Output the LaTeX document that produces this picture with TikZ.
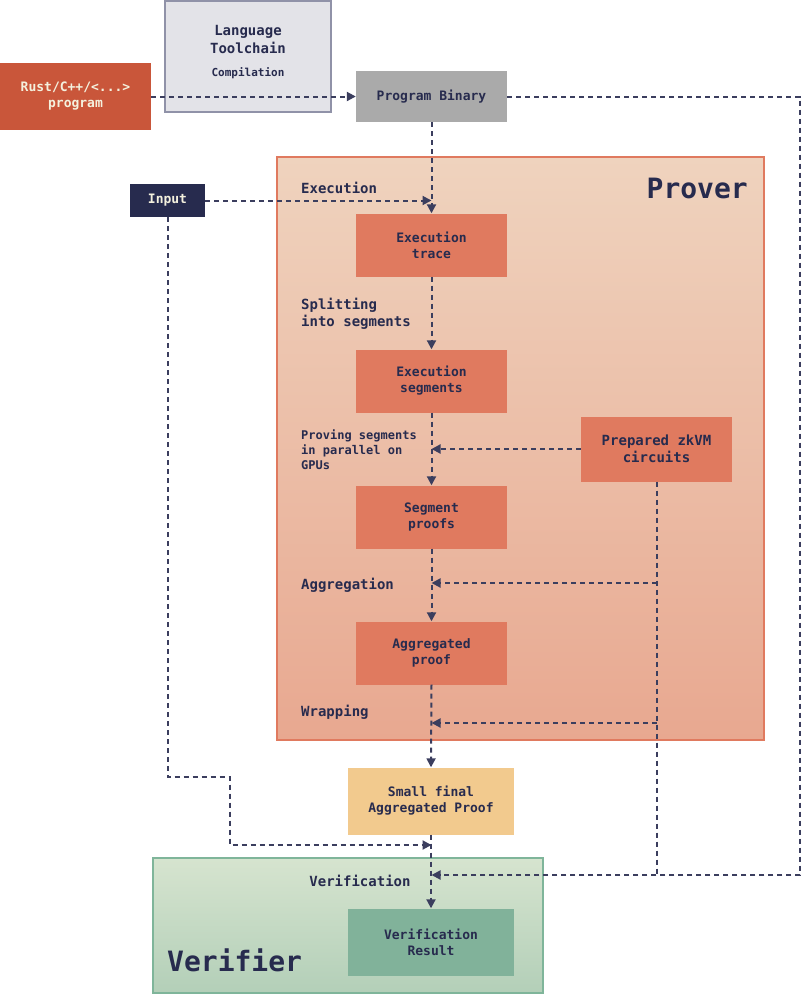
\documentclass[tikz,border=0pt]{standalone}
\usepackage{fontspec}
\setmainfont{DejaVu Sans Mono}
\usetikzlibrary{arrows.meta}
\definecolor{navy}{HTML}{272B4E}
\definecolor{lnk}{HTML}{3B3E5E}
\definecolor{coral}{HTML}{E07A5F}
\definecolor{rust}{HTML}{C9563A}
\definecolor{cream}{HTML}{F4F1DE}
\definecolor{sand}{HTML}{F2CA8E}
\definecolor{sage}{HTML}{81B29A}
\definecolor{pbgray}{HTML}{AAAAAA}
\definecolor{tcfill}{HTML}{E3E3E8}
\definecolor{tcdraw}{HTML}{9092A8}
\definecolor{prtop}{HTML}{EFD3BE}
\definecolor{prbot}{HTML}{E8A890}
\definecolor{vetop}{HTML}{D6E4CF}
\definecolor{vebot}{HTML}{B3CFB8}
\definecolor{vedraw}{HTML}{7FB59A}
\begin{document}
\begin{tikzpicture}[x=1pt,y=-1pt,
 box/.style={rectangle, inner sep=0pt, align=center, font=\fontsize{13}{16}\selectfont\bfseries, text=navy},
 obox/.style={box, fill=coral, minimum width=151pt, minimum height=63pt},
 lbl/.style={anchor=west, inner sep=0pt, align=left, font=\fontsize{14}{17}\selectfont\bfseries, text=navy},
 flow/.style={draw=lnk, line width=2pt, dash pattern=on 5pt off 4pt, -{Triangle[length=9pt,width=9pt]}},
 link/.style={draw=lnk, line width=2pt, dash pattern=on 5pt off 4pt}
]
\useasboundingbox (0,0) rectangle (801,994);
\fill[white] (0,0) rectangle (801,994);

% regions
\node[draw=coral, line width=2pt, top color=prtop, bottom color=prbot, minimum width=487pt, minimum height=583pt, inner sep=0pt] (prover) at (520.5,448.5) {};
\node[draw=vedraw, line width=2pt, top color=vetop, bottom color=vebot, minimum width=390pt, minimum height=135pt, inner sep=0pt] (verifier) at (348,925.5) {};
\node[anchor=east, inner sep=0pt, font=\fontsize{28}{30}\selectfont\bfseries, text=navy] (provertitle) at (748,188) {Prover};
\node[anchor=west, inner sep=0pt, font=\fontsize{28}{30}\selectfont\bfseries, text=navy] (verifiertitle) at (167,960) {Verifier};

% top boxes
\node[box, draw=tcdraw, line width=2pt, fill=tcfill, minimum width=166pt, minimum height=111pt] (toolchain) at (248,56.5) {};
\node[box, font=\fontsize{14}{18}\selectfont\bfseries] (tctext) at (248,39.5) {Language\\Toolchain};
\node[box, font=\fontsize{11}{13}\selectfont\bfseries] (tcsub) at (248,73.5) {Compilation};
\node[box, fill=rust, text=cream, minimum width=151pt, minimum height=67pt] (rust) at (75.5,96.5) {Rust/C++/<...>\\program};
\node[box, fill=pbgray, minimum width=151pt, minimum height=51pt] (binary) at (431.5,96.5) {Program Binary};
\node[box, fill=navy, text=cream, minimum width=75pt, minimum height=33pt] (input) at (167.5,200.5) {Input};

% prover boxes
\node[obox] (trace) at (431.5,245) {Execution\\trace};
\node[obox] (segs) at (431.5,381) {Execution\\segments};
\node[obox] (sproofs) at (431.5,517) {Segment\\proofs};
\node[obox] (agg) at (431.5,653) {Aggregated\\proof};
\node[obox, minimum height=65pt, font=\fontsize{14}{17}\selectfont\bfseries] (prepared) at (656.5,449) {Prepared zkVM\\circuits};

% labels
\node[lbl] (lexec) at (301,187.5) {Execution};
\node[lbl] (lsplit) at (301,314) {Splitting\\into segments};
\node[lbl, font=\fontsize{12}{15}\selectfont\bfseries] (lprove) at (301,449.5) {Proving segments\\in parallel on\\GPUs};
\node[lbl] (laggr) at (301,585.5) {Aggregation};
\node[lbl] (lwrap) at (301,712.5) {Wrapping};

% bottom boxes
\node[box, fill=sand, minimum width=166pt, minimum height=67pt] (small) at (431,801) {Small final\\Aggregated Proof};
\node[box, fill=sage, minimum width=166pt, minimum height=67pt] (result) at (431,942) {Verification\\Result};
\node[box, font=\fontsize{14}{17}\selectfont\bfseries] (lverif) at (360,880.5) {Verification};

% coordinates
\coordinate (aggin) at (431.5,583);
\coordinate (wrapin) at (431.5,723);
\coordinate (inpin) at (431.5,845);
\coordinate (binin) at (431.5,875);
\coordinate (prjoin) at (656.5,875);
\coordinate (i1) at (167.5,777);
\coordinate (i2) at (230,777);
\coordinate (i3) at (230,845);
\coordinate (b1) at (800,96.5);
\coordinate (b2) at (800,875);

% connectors
\draw[flow] (rust.east) -- (binary.west);
\draw[flow] (binary.south) -- (trace.north);
\draw[flow] (input.east) -- (input.east -| trace.north);
\draw[flow] (trace.south) -- (segs.north);
\draw[flow] (segs.south) -- (sproofs.north);
\draw[flow] (prepared.west) -- (prepared.west -| segs.south);
\draw[flow] (sproofs.south) -- (agg.north);
\draw[link] (prepared.south) -- (prjoin);
\draw[flow] (aggin -| prepared.south) -- (aggin);
\draw[flow] (wrapin -| prepared.south) -- (wrapin);
\draw[flow] (agg.south) -- (small.north);
\draw[flow] (small.south) -- (result.north);
\draw[flow] (input.south) -- (i1) -- (i2) -- (i3) -- (inpin);
\draw[flow] (binary.east) -- (b1) -- (b2) -- (binin);
\end{tikzpicture}
\end{document}
